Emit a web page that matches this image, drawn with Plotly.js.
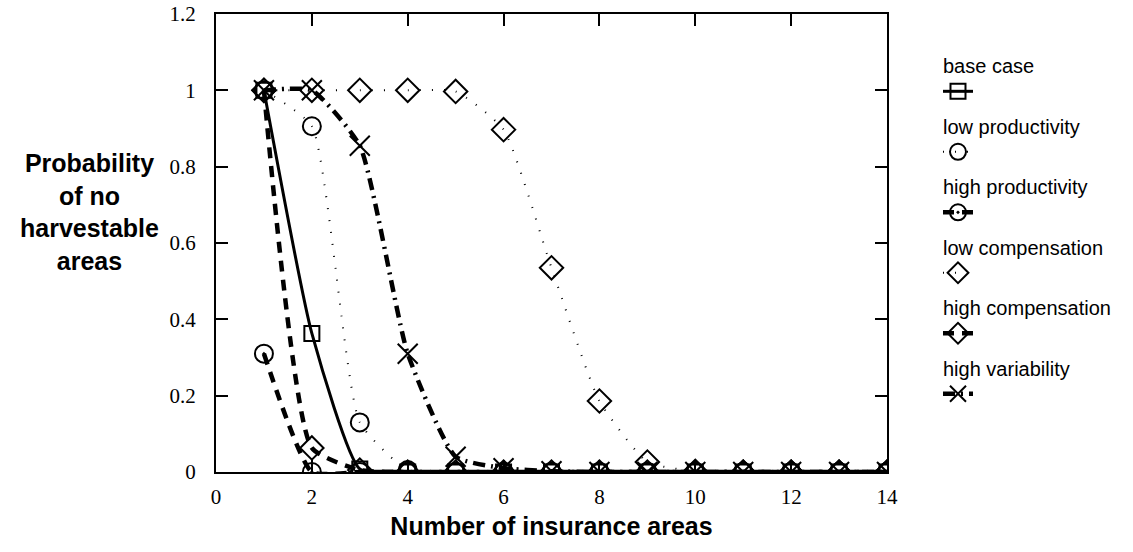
<!DOCTYPE html>
<html>
<head>
<meta charset="utf-8">
<script src="https://cdn.plot.ly/plotly-3.0.1.min.js"></script>
<style>html,body{margin:0;padding:0;background:#fff;}#chart{width:1133px;height:552px;}</style>
</head>
<body>
<div id="chart"></div>
<script>
// Number of insurance areas
const insuranceAreas = [1, 2, 3, 4, 5, 6, 7, 8, 9, 10, 11, 12, 13, 14];

// Probability of no harvestable areas
const baseCase          = [1, 0.363, 0.008, 0, 0, 0, 0, 0, 0, 0, 0, 0, 0, 0];
const lowProductivity   = [1, 0.906, 0.13, 0.005, 0, 0, 0, 0, 0, 0, 0, 0, 0, 0];
const highProductivity  = [0.31, 0.0, 0, 0, 0, 0, 0, 0, 0, 0, 0, 0, 0, 0];
const lowCompensation   = [1, 1, 1, 1, 0.997, 0.897, 0.535, 0.186, 0.026, 0.002, 0, 0, 0, 0];
const highCompensation  = [1, 0.063, 0.005, 0, 0, 0, 0, 0, 0, 0, 0, 0, 0, 0];
const highVariability   = [1, 1, 0.855, 0.31, 0.04, 0.01, 0.002, 0, 0, 0, 0, 0, 0, 0];

const seriesNames = ["base case", "low productivity", "high productivity", "low compensation", "high compensation", "high variability"];

const xTickVals = [0, 2, 4, 6, 8, 10, 12, 14];
const yTickVals = [0, 0.2, 0.4, 0.6, 0.8, 1, 1.2];

const black = "#000";
const legendFont = {family: "Liberation Sans, Arial, sans-serif", size: 20, color: black};

function mk(name, y, lineStyle, marker, i) {
  return {
    x: insuranceAreas, y: y, type: "scatter", mode: "lines+markers",
    name: "", legendgroup: "g" + i,
    legendgrouptitle: {text: name, font: legendFont},
    line: Object.assign({color: black, shape: "spline", smoothing: 0.5}, lineStyle),
    marker: Object.assign({color: black, line: {color: black, width: 2}}, marker),
    hovertemplate: name + ": %{y}<extra></extra>"
  };
}

const traces = [
  mk(seriesNames[0], baseCase, {width: 3, dash: "solid"}, {symbol: "square-open", size: 15}, 0),
  mk(seriesNames[1], lowProductivity, {width: 2, dash: "1px,11px"}, {symbol: "circle-open", size: 18}, 1),
  mk(seriesNames[2], highProductivity, {width: 4.5, dash: "11px,8px"}, {symbol: "circle-open-dot", size: 18}, 2),
  mk(seriesNames[3], lowCompensation, {width: 2, dash: "1px,11px"}, {symbol: "diamond-open", size: 18}, 3),
  mk(seriesNames[4], highCompensation, {width: 4.5, dash: "11px,8px"}, {symbol: "diamond-open", size: 18}, 4),
  mk(seriesNames[5], highVariability, {width: 4.5, dash: "12px,6px,2px,6px"}, {symbol: "x-thin-open", size: 20}, 5)
];

const tickFont = {family: "Liberation Serif, Times New Roman, serif", size: 21, color: black};

const layout = {
  width: 1133, height: 552,
  margin: {l: 216, r: 216, t: 14, b: 80, pad: 0},
  paper_bgcolor: "#fff", plot_bgcolor: "#fff",
  showlegend: true,
  legend: {
    x: 1.076, xanchor: "left", y: 0.93, yanchor: "top",
    font: {family: "Liberation Sans, Arial, sans-serif", size: 15, color: black},
    tracegroupgap: 9, itemwidth: 30,
    bgcolor: "rgba(0,0,0,0)", borderwidth: 0
  },
  xaxis: {
    range: [0, 14], tickvals: xTickVals, ticktext: xTickVals.map(String),
    ticks: "inside", ticklen: 12, tickwidth: 2, tickcolor: black,
    showline: true, linewidth: 2, linecolor: black, mirror: "allticks",
    showgrid: false, zeroline: false, tickfont: tickFont, ticklabelstandoff: 5,
    title: {text: "Number of insurance areas", font: {family: "Liberation Sans, Arial, sans-serif", size: 25, color: black, weight: "bold"}, standoff: 9}
  },
  yaxis: {
    range: [0, 1.2], tickvals: yTickVals,
    ticks: "inside", ticklen: 12, tickwidth: 2, tickcolor: black,
    showline: true, linewidth: 2, linecolor: black, mirror: "allticks",
    showgrid: false, zeroline: false, tickfont: tickFont, ticklabelstandoff: 14
  },
  annotations: [{
    xref: "paper", yref: "paper", x: -0.188, y: 0.568, xanchor: "center", yanchor: "middle",
    text: "<b>Probability<br>of no<br>harvestable<br>areas</b>", showarrow: false, align: "center",
    font: {family: "Liberation Sans, Arial, sans-serif", size: 25, color: black}
  }]
};

Plotly.newPlot("chart", traces, layout, {displayModeBar: false, staticPlot: true});
</script>
</body>
</html>
